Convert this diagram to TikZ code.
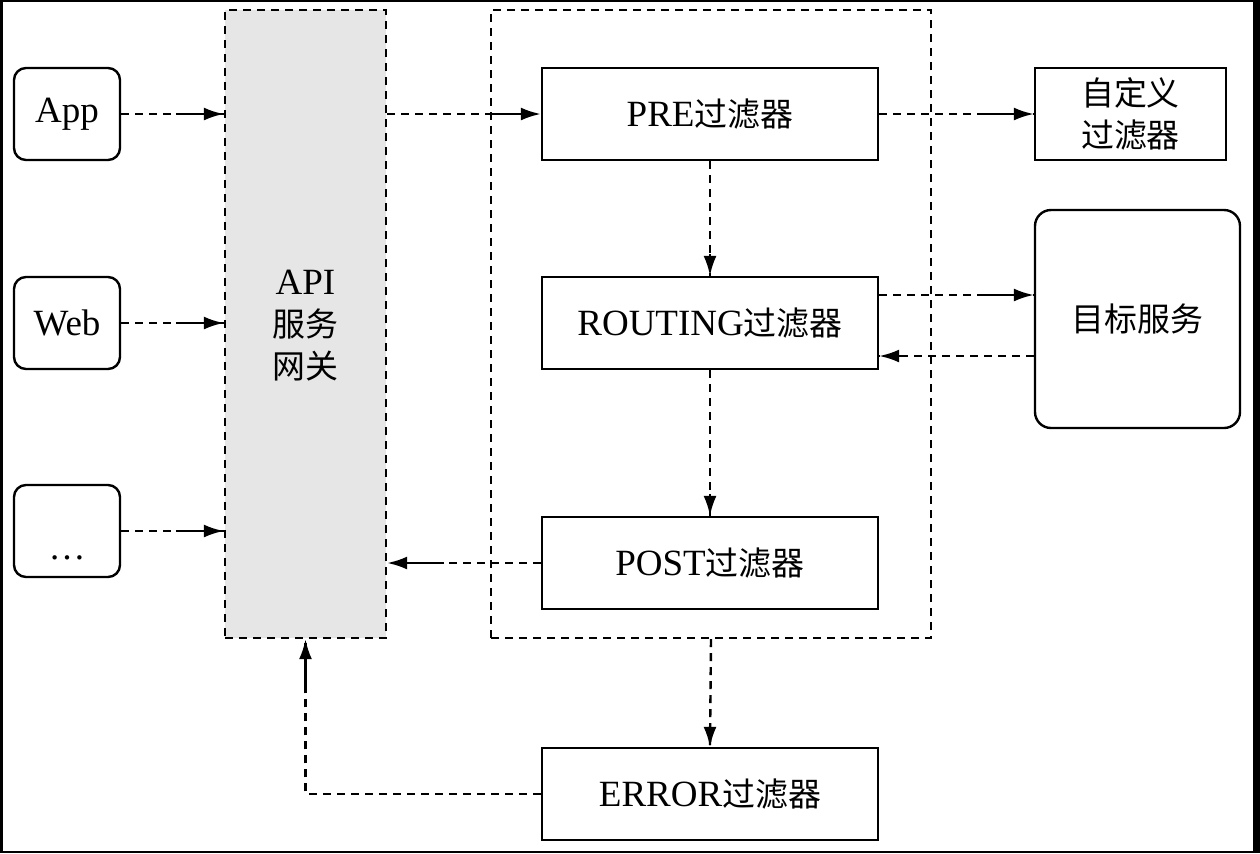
\documentclass[tikz,border=0pt]{standalone}
\usepackage{fontspec}
\setmainfont{Liberation Serif}
\newfontfamily\cjk[Scale=0.89]{Noto Sans CJK SC}
\usetikzlibrary{arrows.meta,calc}
\definecolor{gwgray}{HTML}{E6E6E6}
\begin{document}
\begin{tikzpicture}[x=0.5pt,y=-0.5pt,
  txt/.style={font=\fontsize{18.5}{21}\selectfont,align=center,inner sep=0pt},
  box/.style={txt,draw,line width=1.2pt,minimum width=168pt,minimum height=46pt},
  client/.style={txt,draw,line width=1.2pt,rounded corners=6pt,minimum width=53pt,minimum height=46pt},
  dbox/.style={txt,draw,line width=1.2pt,dash pattern=on 4pt off 3pt},
  dl/.style={line width=1.2pt,dash pattern=on 4pt off 3pt},
  tip/.style={line width=1.2pt,-{Latex[length=10pt,width=6.5pt]}}
]
% frame
\fill[black] (0,0) rectangle (1260,853);
\fill[white] (3,2) rectangle (1253,851);

% containers
\node[dbox,fill=gwgray,minimum width=80.5pt,minimum height=314pt] (gw) at (305.5,324) {\raisebox{-6.6pt}[0pt][0pt]{\begin{tabular}{@{}c@{}}API\\{\cjk 服务}\\{\cjk 网关}\end{tabular}}};
\node[dbox,minimum width=220pt,minimum height=314pt] (ct) at (711,324) {};

% clients
\node[client] (app) at (67,114) {App};
\node[client] (web) at (67,323) {Web};
\node[client] (etc) at (67,531) {\raisebox{-14pt}[0pt][0pt]{\dots}};

% filters
\node[box] (pre) at (710,114) {PRE{\cjk 过滤器}};
\node[box] (rt) at (710,323) {ROUTING{\cjk 过滤器}};
\node[box] (post) at (710,563) {POST{\cjk 过滤器}};
\node[box] (err) at (710,794) {ERROR{\cjk 过滤器}};
\node[box,minimum width=95.5pt] (cust) at (1130.5,114) {{\cjk 自定义}\\{\cjk 过滤器}};
\node[txt,draw,line width=1.2pt,rounded corners=8pt,minimum width=102.5pt,minimum height=109pt] (svc) at (1137.5,319) {{\cjk 目标服务}};

% clients -> gateway
\foreach \c in {app,web,etc}{
  \draw[dl] (\c.east) -- (\c.east -| gw.west);
  \draw[tip] ($(\c.east -| gw.west)+(-48,0)$) -- (\c.east -| gw.west);
}
% gateway -> PRE
\draw[dl] (gw.east |- pre.west) -- (pre.west);
\draw[tip] ($(pre.west)+(-51,0)$) -- (pre.west);
% PRE -> custom
\draw[dl] (pre.east) -- (cust.west);
\draw[tip] ($(cust.west)+(-52,0)$) -- (cust.west);
% PRE -> ROUTING
\draw[dl] (pre.south) -- (rt.north);
\draw[tip] ($(rt.north)+(0,-22)$) -- (rt.north);
% ROUTING <-> service
\coordinate (r1) at ($(rt.east)+(0,-28)$);
\coordinate (r2) at ($(rt.east)+(0,33)$);
\draw[dl] (r1) -- (r1 -| svc.west);
\draw[tip] ($(r1 -| svc.west)+(-52,0)$) -- (r1 -| svc.west);
\draw[dl] (r2 -| svc.west) -- (r2);
\draw[tip] ($(r2)+(26,0)$) -- (r2);
% ROUTING -> POST
\draw[dl] (rt.south) -- (post.north);
\draw[tip] ($(post.north)+(0,-22)$) -- (post.north);
% POST -> gateway
\draw[dl] (post.west) -- (post.west -| gw.east);
\draw[tip] ($(post.west -| gw.east)+(57,0)$) -- (post.west -| gw.east);
% container -> ERROR
\draw[dl] (ct.south) -- (err.north);
\draw[tip] ($(err.north)+(0,-22)$) -- (err.north);
% ERROR -> gateway
\draw[dl] (err.west) -- (err.west -| gw.south) -- (gw.south);
\draw[tip] ($(gw.south)+(0,50)$) -- (gw.south);
\end{tikzpicture}
\end{document}
